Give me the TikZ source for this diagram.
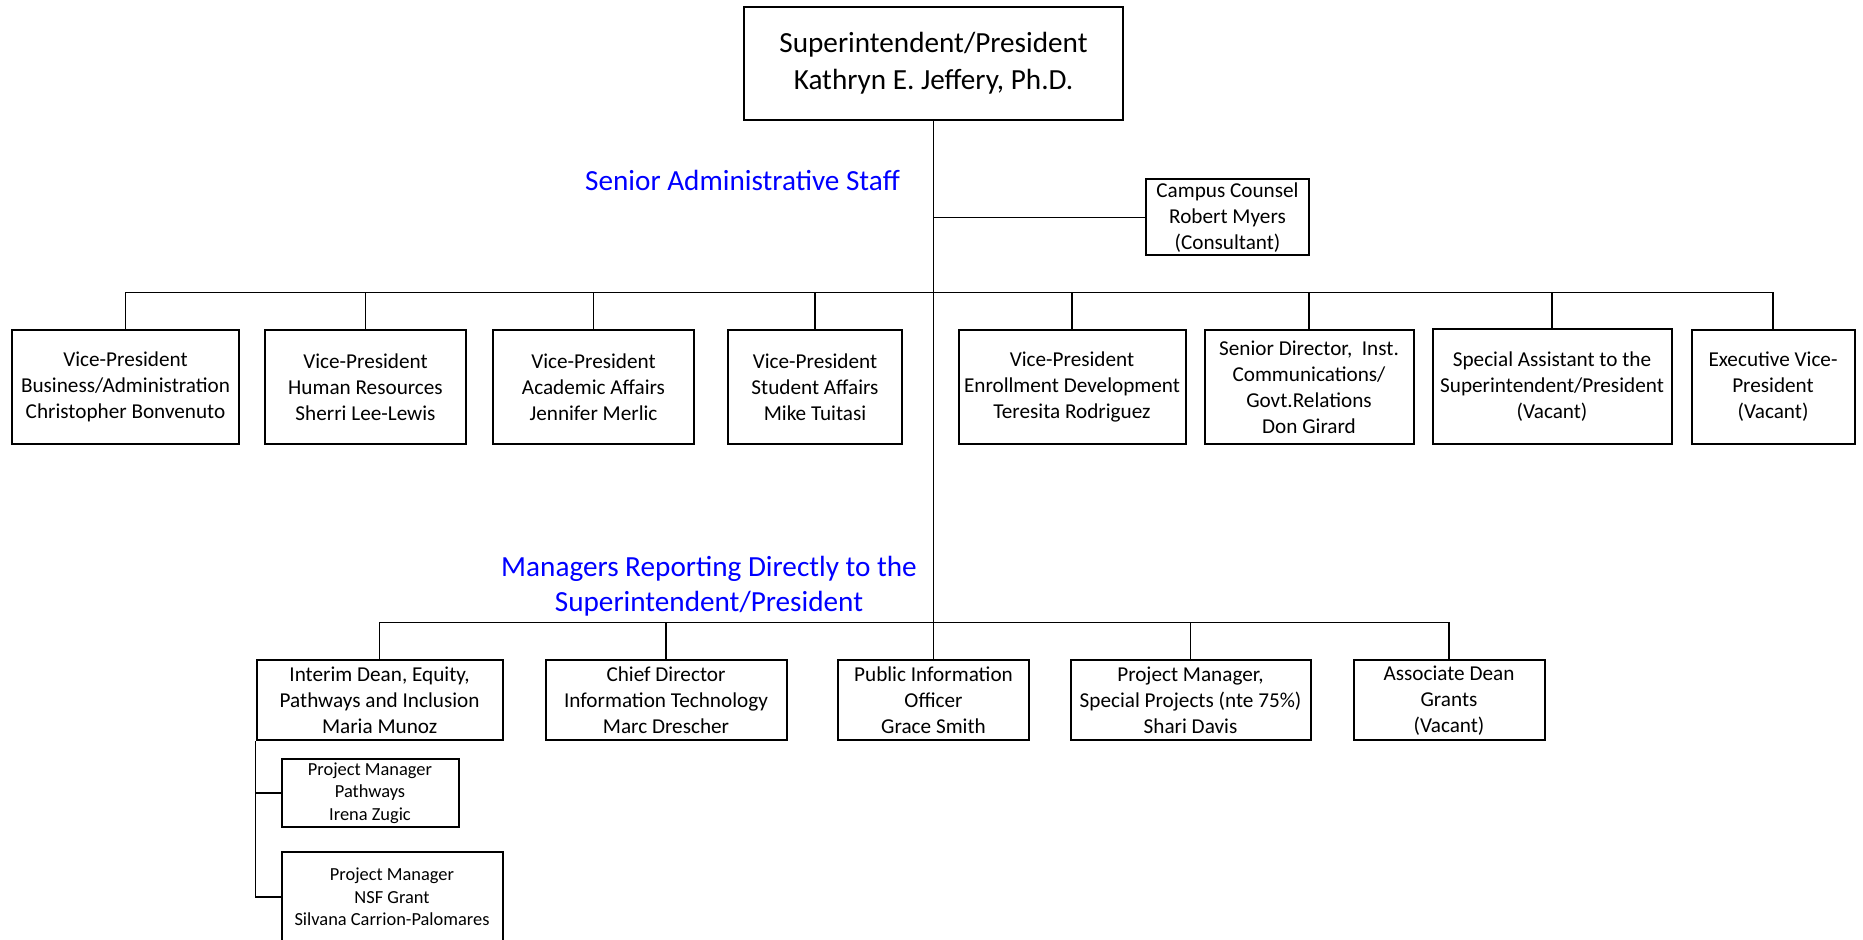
\documentclass[tikz,border=0pt]{standalone}
\usepackage{fontspec}
\setmainfont{Carlito}
\def\pxunit{0.5pt}
\def\vprow{387}
\def\mgrrow{700.4}
\def\normalbox{\fontsize{10.6}{13}\selectfont}
\def\smallfont{\fontsize{9.2}{11.3}\selectfont}
\def\bigfont{\fontsize{14.6}{18.5}\selectfont}
\tikzset{
% Box
orgbox/.style 2 args={
	draw, line width=1pt, inner sep=0pt, align=center,
	minimum width=#1*\pxunit, minimum height=#2*\pxunit,
	font=\normalbox,
	},
% Small box
smallbox/.style 2 args={
	orgbox={#1}{#2},
	font=\smallfont,
	},
% Head box
headbox/.style 2 args={
	orgbox={#1}{#2},
	font=\bigfont,
	},
% Heading
heading/.style={
	text=blue, align=center,
	font=\fontsize{14.6}{17.3}\selectfont,
	},
% Connection
connection/.style={
	line width=0.75pt,
	},
}
\begin{document}
\begin{tikzpicture}[x=\pxunit, y=-\pxunit]
		\clip (0,0) rectangle (1863,940);
		\fill[white] (0,0) rectangle (1863,940);

		% Components
		\node[headbox={379}{113}] (top) at (933.5,63.5)
			{Superintendent/President\\Kathryn E. Jeffery, Ph.D.};

		\node[heading] (senior) at (742.5,180.6) {Senior Administrative Staff};

		\node[orgbox={163}{76}] (campus) at (1227.5,217.4)
			{Campus Counsel\\Robert Myers\\(Consultant)};

		% Vice-Presidents
		\node[orgbox={227}{114}] (vp1) at (125.5,\vprow)
			{Vice-President\\Business/Administration\\Christopher Bonvenuto};
		\node[orgbox={201}{114}] (vp2) at (365.5,\vprow)
			{Vice-President\\Human Resources\\Sherri Lee-Lewis};
		\node[orgbox={201}{114}] (vp3) at (593.5,\vprow)
			{Vice-President\\Academic Affairs\\Jennifer Merlic};
		\node[orgbox={174}{114}] (vp4) at (815,\vprow)
			{Vice-President\\Student Affairs\\Mike Tuitasi};
		\node[orgbox={227}{114}] (vp5) at (1072,\vprow)
			{Vice-President\\Enrollment Development\\Teresita Rodriguez};
		\node[orgbox={209}{114}] (vp6) at (1309,\vprow)
			{Senior Director,~~Inst.\\Communications/\\Govt.Relations\\Don Girard};
		\node[orgbox={239}{115}] (vp7) at (1552,\vprow)
			{Special Assistant to the\\Superintendent/President\\(Vacant)};
		\node[orgbox={163}{114}] (vp8) at (1773,\vprow)
			{Executive Vice-\\President\\(Vacant)};

		\node[heading] (managers) at (709,586)
			{Managers Reporting Directly to the\\Superintendent/President};

		% Managers
		\node[orgbox={246}{80}] (mgr1) at (379.6,\mgrrow)
			{Interim Dean, Equity,\\Pathways and Inclusion\\Maria Munoz};
		\node[orgbox={241}{80}] (mgr2) at (666,\mgrrow)
			{Chief Director\\Information Technology\\Marc Drescher};
		\node[orgbox={191}{80}] (mgr3) at (933.5,\mgrrow)
			{Public Information\\Officer\\Grace Smith};
		\node[orgbox={240}{80}] (mgr4) at (1190.5,\mgrrow)
			{Project Manager,\\Special Projects (nte 75\%)\\Shari Davis};
		\node[orgbox={191}{80}] (mgr5) at (1449,\mgrrow)
			{Associate Dean\\Grants\\(Vacant)};

		\node[smallbox={177}{68}] (pm1) at (370,793)
			{Project Manager\\Pathways\\Irena Zugic};
		\node[smallbox={221}{90}] (pm2) at (392,897)
			{Project Manager\\NSF Grant\\Silvana Carrion-Palomares};

		% Connections
		\coordinate (vpbar) at (933.5,292.3);
		\coordinate (mgrbar) at (933.5,622.6);

		% Trunk
		\draw[connection] (top) -- (mgr3);
		\draw[connection] (campus.west) -- (campus.west -| top.south);

		% Vice-President bar
		\draw[connection] (vp1.north) -- (vp1.north |- vpbar) -- (vp8.north |- vpbar) -- (vp8.north);
		\draw[connection] (vp2.north) -- (vp2.north |- vpbar);
		\draw[connection] (vp3.north) -- (vp3.north |- vpbar);
		\draw[connection] (vp4.north) -- (vp4.north |- vpbar);
		\draw[connection] (vp5.north) -- (vp5.north |- vpbar);
		\draw[connection] (vp6.north) -- (vp6.north |- vpbar);
		\draw[connection] (vp7.north) -- (vp7.north |- vpbar);

		% Manager bar
		\draw[connection] (mgr1.north) -- (mgr1.north |- mgrbar) -- (mgr5.north |- mgrbar) -- (mgr5.north);
		\draw[connection] (mgr2.north) -- (mgr2.north |- mgrbar);
		\draw[connection] (mgr4.north) -- (mgr4.north |- mgrbar);

		% Project Managers
		\draw[connection] (mgr1.south west) |- (pm1.west);
		\draw[connection] (mgr1.south west) |- (pm2.west);
	\end{tikzpicture}
\end{document}
